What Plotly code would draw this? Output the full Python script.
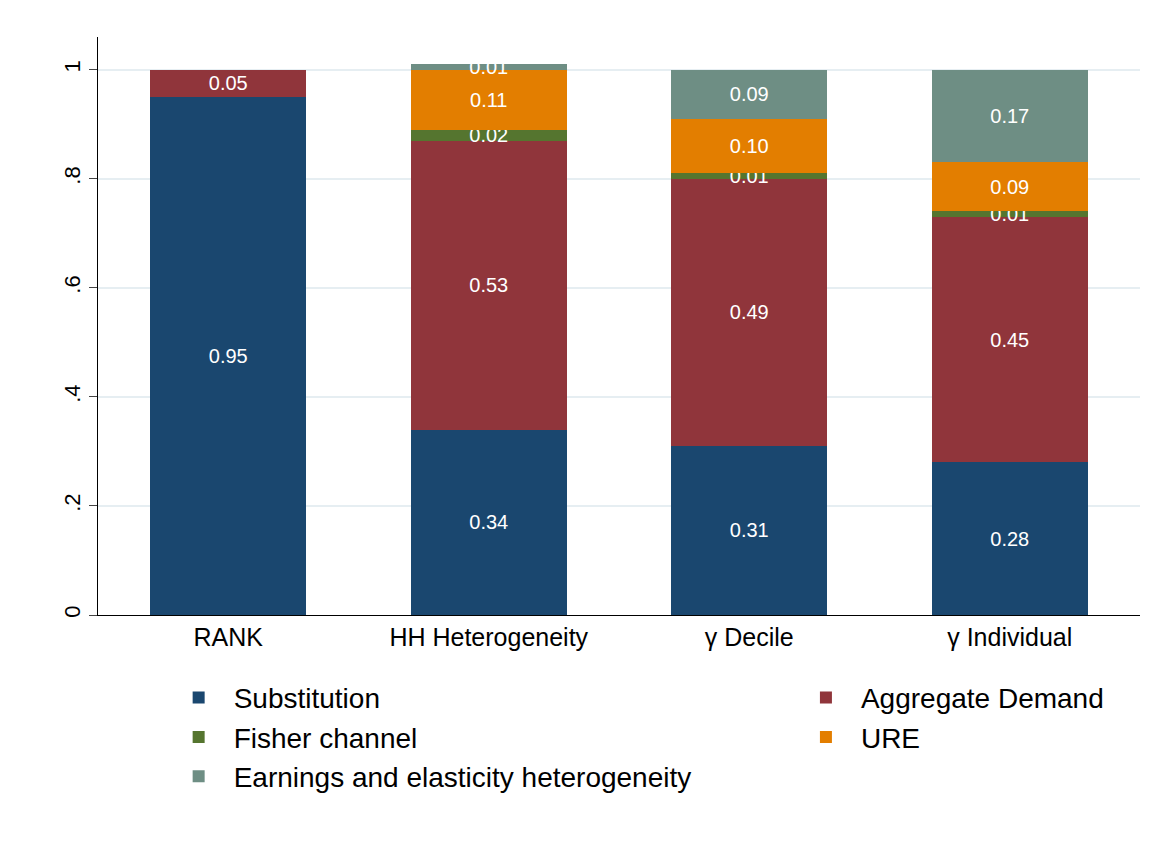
import plotly.graph_objects as go

categories = ["RANK", "HH Heterogeneity", "γ Decile", "γ Individual"]
substitution = [0.95, 0.34, 0.31, 0.28]
aggregate_demand = [0.05, 0.53, 0.49, 0.45]
fisher = [None, 0.02, 0.01, 0.01]
ure = [None, 0.11, 0.10, 0.09]
earnings = [None, 0.01, 0.09, 0.17]

# (name, values, colour, legend column)
series = [
    ("Substitution", substitution, "#1a476f", "legend"),
    ("Aggregate Demand", aggregate_demand, "#90353b", "legend2"),
    ("Fisher channel", fisher, "#55752f", "legend"),
    ("URE", ure, "#e37e00", "legend2"),
    ("Earnings and elasticity heterogeneity", earnings, "#6e8e84", "legend"),
]

fig = go.Figure()
for name, vals, color, leg in series:
    fig.add_trace(go.Bar(
        x=categories, y=vals, name=name, legend=leg,
        marker=dict(color=color, line=dict(width=0)),
        texttemplate="%{y:.2f}", textposition="inside", insidetextanchor="middle",
        textfont=dict(color="white", size=20), constraintext="none",
    ))

leg_style = dict(orientation="v", yanchor="top", y=-0.1, traceorder="normal",
                 font=dict(size=28), tracegroupgap=0, itemwidth=60)
fig.update_layout(
    barmode="stack", bargap=0.4,
    paper_bgcolor="white", plot_bgcolor="white",
    font=dict(family="Liberation Sans, Arial", size=24, color="black"),
    margin=dict(l=90, r=10, t=29, b=220),
    uniformtext=dict(minsize=20, mode="show"),
    showlegend=True,
    legend=dict(x=0.063, xanchor="left", **leg_style),
    legend2=dict(x=0.665, xanchor="left", **leg_style),
)
fig.update_yaxes(range=[0, 1.06], tickvals=[0, 0.2, 0.4, 0.6, 0.8, 1],
                 ticktext=["0", ".2", ".4", ".6", ".8", "1"], tickangle=-90,
                 showgrid=True, gridcolor="#e6eef2", gridwidth=1.5, showline=True,
                 linecolor="black", ticks="outside", ticklen=8, zeroline=False,
                 tickfont=dict(size=22))
fig.update_xaxes(showline=True, linecolor="black", tickfont=dict(size=25))

fig.write_html("out.html")
